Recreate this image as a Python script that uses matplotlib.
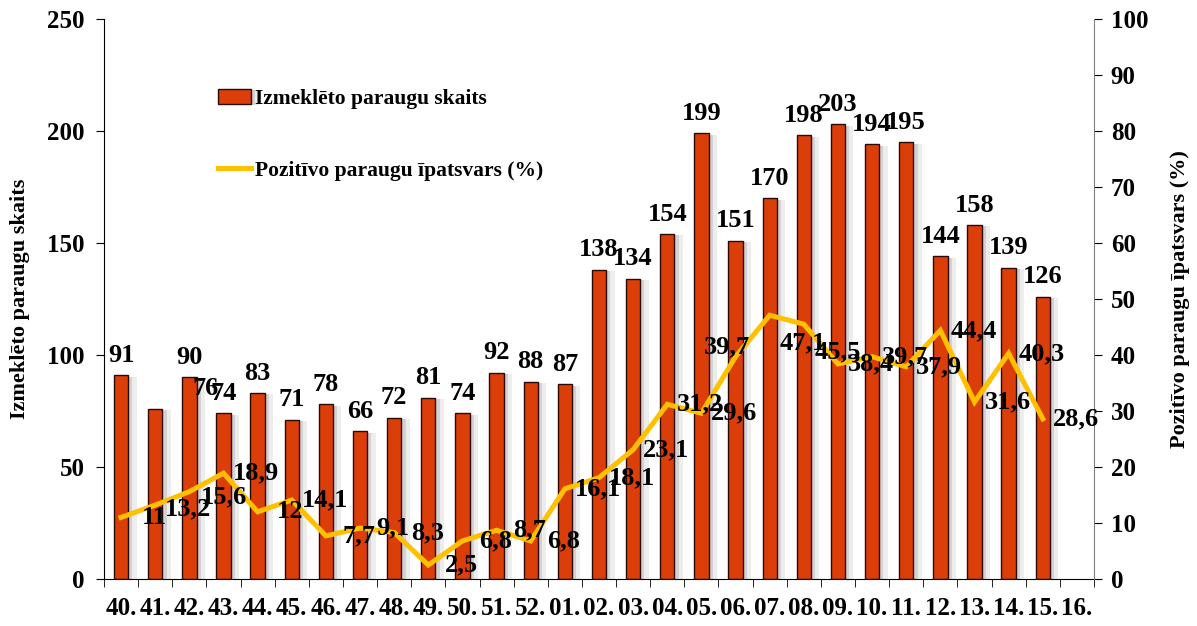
import matplotlib
matplotlib.use("Agg")
import matplotlib.pyplot as plt
import matplotlib.patheffects as pe
import numpy as np

# nedēļas
weeks = ['40.', '41.', '42.', '43.', '44.', '45.', '46.', '47.', '48.', '49.',
         '50.', '51.', '52.', '01.', '02.', '03.', '04.', '05.', '06.', '07.',
         '08.', '09.', '10.', '11.', '12.', '13.', '14.', '15.', '16.']
samples = [91, 76, 90, 74, 83, 71, 78, 66, 72, 81, 74, 92, 88, 87, 138, 134,
           154, 199, 151, 170, 198, 203, 194, 195, 144, 158, 139, 126]
positive = [11, 13.2, 15.6, 18.9, 12, 14.1, 7.7, 9.1, 8.3, 2.5, 6.8, 8.7, 6.8,
            16.1, 18.1, 23.1, 31.2, 29.6, 39.7, 47.1, 45.5, 38.4, 39.7, 37.9,
            44.4, 31.6, 40.3, 28.6]

plt.rcParams['font.family'] = ['Liberation Serif', 'DejaVu Serif']
plt.rcParams['font.weight'] = 'bold'

bar_col = '#DC3E0A'
line_col = '#FFC000'

fig = plt.figure(figsize=(11.97, 6.26), dpi=100)
ax = fig.add_axes([104/1197, 1-579/626, (1094-104)/1197, (579-19)/626])
ax2 = ax.twinx()

x = np.arange(len(samples))
shadow = [pe.SimplePatchShadow(offset=(3, -1), shadow_rgbFace='#999999', alpha=0.35),
          pe.SimplePatchShadow(offset=(6, -1), shadow_rgbFace='#bbbbbb', alpha=0.25),
          pe.Normal()]
bars = ax.bar(x, samples, width=0.42, color=bar_col, edgecolor='#2a0a00',
              linewidth=1.0, label='Izmeklēto paraugu skaits', zorder=2)
for b in bars:
    b.set_path_effects(shadow)

ax.set_xlim(-0.5, len(weeks) - 0.5)
ax.set_ylim(0, 250)
ax.set_yticks(range(0, 251, 50))
ax.set_xticks(x.tolist() + [len(samples)])
ax.set_xticklabels(weeks)
ax.set_xticks(np.arange(-0.5, len(weeks)), minor=True)
ax.tick_params(axis='x', which='major', length=0, pad=13, labelsize=18)
ax.tick_params(axis='x', which='minor', length=6, direction='out')
ax.tick_params(axis='y', length=6, labelsize=18, pad=8)
ax.spines['top'].set_visible(False)
ax.spines['right'].set_visible(False)

bar_off = {1: (50, 20)}
for i, v in enumerate(samples):
    dx, dy = bar_off.get(i, (0, 20))
    ax.annotate(str(v), xy=(i, v), xytext=(dx, dy), textcoords='offset pixels',
                ha='center', va='center', fontsize=19, fontweight='bold')

ax2.plot(x, positive, color=line_col, linewidth=3.6, solid_joinstyle='miter',
         label='Pozitīvo paraugu īpatsvars (%)', zorder=3)
ax2.set_ylim(0, 100)
ax2.set_yticks(range(0, 101, 10))
ax2.tick_params(axis='y', length=6, labelsize=18, pad=6)
for s in ['top', 'left', 'bottom']:
    ax2.spines[s].set_visible(False)
ax2.spines['right'].set_color('#808080')

line_off = {1: (33, -4), 2: (35, -5), 18: (-9, 10), 19: (33, -28), 20: (34, -28)}
for i, v in enumerate(positive):
    dx, dy = line_off.get(i, (33, 0))
    ax2.annotate(str(v).replace('.', ','), xy=(i, v), xytext=(dx, dy),
                 textcoords='offset pixels', ha='center', va='center',
                 fontsize=19, fontweight='bold', zorder=5)

ax.set_ylabel('Izmeklēto paraugu skaits', fontsize=16, fontweight='bold', labelpad=12)
ax2.set_ylabel('Pozitīvo paraugu īpatsvars (%)', fontsize=16, fontweight='bold',
               rotation=90, labelpad=16)

h1, l1 = ax.get_legend_handles_labels()
h2, l2 = ax2.get_legend_handles_labels()
leg = ax.legend(h1 + h2, l1 + l2, loc='upper left', bbox_to_anchor=(0.096, 0.91),
                frameon=False, labelspacing=2.4, handlelength=1.5,
                handletextpad=0.2, prop={'weight': 'bold', 'size': 15.5})

fig.savefig('out.png', dpi=100)
